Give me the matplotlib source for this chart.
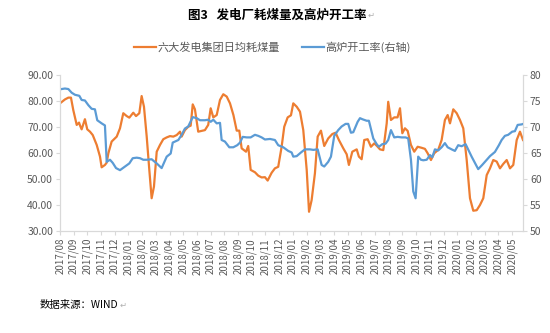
import matplotlib
matplotlib.use("Agg")
import matplotlib.pyplot as plt

plt.rcParams['font.family'] = ['Noto Sans CJK SC', 'DejaVu Sans']

# x positions are time measured in months since 2017/08
month_labels = ['2017/08', '2017/09', '2017/10', '2017/11', '2017/12',
                '2018/01', '2018/02', '2018/03', '2018/04', '2018/05', '2018/06',
                '2018/07', '2018/08', '2018/09', '2018/10', '2018/11', '2018/12',
                '2019/01', '2019/02', '2019/03', '2019/04', '2019/05', '2019/06',
                '2019/07', '2019/08', '2019/09', '2019/10', '2019/11', '2019/12',
                '2020/01', '2020/02', '2020/03', '2020/04', '2020/05']

coal_t = [0.00, 0.36, 0.61, 0.80, 0.97, 1.22, 1.39, 1.46, 1.58, 1.82, 1.99, 2.19, 2.39, 2.68,
          2.92, 3.04, 3.28, 3.41, 3.53, 3.77, 4.01, 4.14, 4.38, 4.62, 4.87, 5.06, 5.35, 5.55,
          5.79, 5.96, 6.13, 6.33, 6.52, 6.69, 6.86, 7.06, 7.30, 7.54, 7.79, 8.03, 8.27, 8.52,
          8.76, 8.88, 9.12, 9.36, 9.54, 9.69, 9.85, 10.09, 10.34, 10.58, 10.82, 11.00, 11.19,
          11.44, 11.68, 11.92, 12.17, 12.41, 12.66, 12.90, 13.09, 13.26, 13.58, 13.74, 13.92,
          14.23, 14.47, 14.72, 14.96, 15.16, 15.45, 15.69, 15.93, 16.18, 16.37, 16.62, 16.86,
          17.03, 17.28, 17.52, 17.76, 18.01, 18.18, 18.37, 18.61, 18.81, 19.05, 19.29, 19.58,
          19.88, 20.12, 20.36, 20.68, 20.93, 21.09, 21.34, 21.66, 21.82, 22.02, 22.21, 22.46,
          22.70, 22.94, 23.14, 23.36, 23.60, 23.85, 23.96, 24.16, 24.40, 24.64, 24.82, 24.99,
          25.18, 25.38, 25.62, 25.86, 26.11, 26.40, 26.64, 26.84, 27.08, 27.32, 27.61, 27.86,
          28.10, 28.30, 28.47, 28.71, 28.96, 29.20, 29.44, 29.69, 29.93, 30.17, 30.42, 30.66,
          30.90, 31.15, 31.39, 31.63, 31.88, 32.12, 32.36, 32.61, 32.85, 33.09, 33.34, 33.58,
          33.80]
coal_v = [79.1, 80.6, 81.3, 81.3, 76.5, 70.8, 71.7, 70.6, 69.1, 73.0, 69.1, 68.2, 66.9, 63.1,
          58.6, 54.5, 55.4, 56.3, 59.9, 64.4, 65.6, 66.3, 69.5, 75.3, 74.2, 73.6, 75.5, 74.2,
          75.3, 81.9, 77.8, 66.3, 53.5, 42.6, 47.1, 60.5, 63.1, 65.3, 66.0, 66.5, 66.3, 66.9,
          68.2, 66.3, 68.8, 70.1, 70.5, 78.7, 76.8, 68.2, 68.5, 68.8, 70.8, 77.2, 73.7,
          74.6, 80.4, 82.6, 81.7, 79.1, 74.6, 68.6, 68.6, 61.8, 60.5, 62.7, 53.5,
          52.6, 51.3, 50.6, 50.7, 49.4, 52.4, 54.1, 54.7, 62.4, 70.1, 73.7, 74.5,
          79.1, 77.8, 75.9, 68.8, 53.5, 37.4, 41.9, 52.2, 66.3, 68.6, 62.7, 65.6,
          67.3, 67.8, 65.0, 61.8, 59.5, 55.4, 60.5, 61.4, 58.6, 57.6, 65.0, 65.3,
          62.4, 63.7, 62.7, 61.4, 61.1, 71.4, 79.7, 72.7, 73.7, 73.7, 77.2, 67.6,
          69.5, 68.5, 63.1, 60.5, 62.4, 62.0, 61.6, 59.9, 57.3, 59.9, 61.2, 65.0,
          72.7, 74.6, 71.4, 76.8, 75.3, 72.7, 69.5, 57.3, 42.6, 37.8, 38.0, 40.0,
          42.6, 51.5, 54.1, 57.3, 56.7, 54.1, 55.8, 57.3, 54.1, 55.4, 65.0, 68.2,
          65.0]

furnace_t = [0.00, 0.36, 0.61, 0.85, 1.09, 1.41, 1.58, 1.82, 2.07, 2.31, 2.55, 2.72, 3.04, 3.28,
             3.41, 3.65, 3.85, 4.09, 4.38, 4.74, 5.06, 5.31, 5.60, 5.84, 6.08, 6.35, 6.69, 7.06,
             7.42, 7.79, 8.08, 8.23, 8.64, 8.88, 9.12, 9.36, 9.69, 9.98, 10.22, 10.58, 10.82,
             11.00, 11.19, 11.44, 11.68, 11.80, 12.04, 12.36, 12.65, 12.94, 13.14, 13.34, 13.63,
             13.92, 14.23, 14.47, 14.72, 14.96, 15.33, 15.69, 15.93, 16.30, 16.66, 16.91, 17.03,
             17.28, 17.59, 17.88, 18.25, 18.49, 18.81, 19.10, 19.29, 19.58, 19.78, 20.02, 20.31,
             20.56, 20.85, 21.04, 21.24, 21.41, 21.73, 21.90, 22.07, 22.39, 22.55, 22.87, 23.12,
             23.28, 23.53, 23.77, 23.96, 24.16, 24.40, 24.65, 24.94, 25.23, 25.42, 25.62, 25.79,
             25.96, 26.15, 26.35, 26.52, 26.77, 27.01, 27.18, 27.37, 27.61, 27.86, 28.10, 28.30,
             28.59, 28.83, 29.07, 29.32, 29.61, 30.05, 30.53, 30.82, 31.15, 31.39, 31.75, 32.04,
             32.24, 32.48, 32.72, 33.01, 33.21, 33.41, 33.70, 33.82]
furnace_v = [77.25, 77.4, 77.3, 76.6, 76.2, 76.0, 75.2, 75.1, 74.2, 73.5, 73.4, 71.3, 70.7, 70.3,
             63.3, 63.7, 63.1, 62.1, 61.7, 62.4, 63.0, 64.0, 64.1, 64.0, 63.7, 63.7, 63.8, 63.0,
             62.1, 64.3, 64.9, 67.0, 67.5, 68.5, 69.7, 70.1, 71.9, 71.7, 71.3, 71.3, 71.4,
             71.0, 71.4, 70.7, 70.8, 67.5, 67.2, 66.1, 66.1, 66.5, 67.0, 68.1, 68.0,
             68.0, 68.5, 68.3, 68.0, 67.6, 67.7, 67.5, 66.5, 66.1, 65.4, 65.1, 64.3,
             64.4, 65.1, 65.7, 65.7, 65.6, 65.7, 62.7, 62.4, 63.3, 64.3, 68.3, 69.4,
             70.1, 70.6, 70.6, 68.9, 69.0, 71.0, 71.7, 71.5, 71.2, 71.2, 67.8, 66.7,
             66.2, 66.7, 66.8, 67.5, 69.4, 68.0, 68.1, 68.0, 68.0, 67.8, 63.7, 57.6,
             56.3, 64.3, 63.7, 63.6, 63.7, 64.6, 64.2, 65.7, 65.5, 66.1, 66.9, 66.1,
             65.7, 65.4, 66.5, 66.3, 66.7, 64.3, 61.9, 62.7, 63.7, 64.4, 65.2, 66.5,
             67.5, 68.3, 68.5, 69.1, 69.2, 70.4, 70.5, 70.6]

left_ticks = [30, 40, 50, 60, 70, 80, 90]
right_ticks = [50, 55, 60, 65, 70, 75, 80]

ORANGE = '#ED7D31'
BLUE = '#5B9BD5'
AXIS = '#D9D9D9'
TXT = '#595959'
MARK = '#B0B0B0'

fig = plt.figure(figsize=(5.5, 3.33), dpi=100)
ax = fig.add_axes([60/550, (333-231)/333, 463/550, 156/333])
ax2 = ax.twinx()

l1, = ax.plot(coal_t, coal_v, color=ORANGE, lw=1.6, solid_joinstyle='round')
l2, = ax2.plot(furnace_t, furnace_v, color=BLUE, lw=1.6, solid_joinstyle='round')
ax2.set_zorder(ax.get_zorder() + 1)

ax.set_xlim(0, 33.8)
ax.set_ylim(30, 90)
ax2.set_ylim(50, 80)
ax.set_yticks(left_ticks)
ax.set_yticklabels([f'{v:.2f}' for v in left_ticks], fontsize=7.5, color=TXT)
ax2.set_yticks(right_ticks)
ax2.set_yticklabels([str(v) for v in right_ticks], fontsize=7.5, color=TXT)
ax.set_xticks(range(len(month_labels)))
ax.set_xticklabels(month_labels, rotation=90, fontsize=7, color=TXT)

for a in (ax, ax2):
    a.spines['top'].set_visible(False)
    for s in ('left', 'right', 'bottom'):
        a.spines[s].set_color(AXIS)
        a.spines[s].set_linewidth(0.8)
    a.tick_params(axis='both', colors=AXIS, length=3, width=0.8, pad=2,
                  labelcolor=TXT)

title = fig.text(188/550, 1 - 15/333, '图3   发电厂耗煤量及高炉开工率', ha='left', va='center',
                 fontsize=9, fontweight='bold', color='#000000')
src = fig.text(40/550, 1 - 305/333, '数据来源：WIND', ha='left', va='center', fontsize=7.5,
               color='#000000')

fig.legend([l1, l2], ['六大发电集团日均耗煤量', '高炉开工率(右轴)'],
           loc='center', bbox_to_anchor=(0.495, 0.858), ncol=2, frameon=False,
           fontsize=8, handlelength=2.0, handletextpad=0.1, columnspacing=2.0,
           labelcolor=TXT)

# paragraph marks right after title and source text
fig.canvas.draw()
r = fig.canvas.get_renderer()
for t in (title, src):
    bb = t.get_window_extent(renderer=r)
    fig.text((bb.x1 + 1) / fig.bbox.width, (bb.y0 + bb.height * 0.45) / fig.bbox.height, '↵',
             ha='left', va='center', fontsize=6, color=MARK, family=['DejaVu Sans'])

fig.savefig('out.png', dpi=100)
